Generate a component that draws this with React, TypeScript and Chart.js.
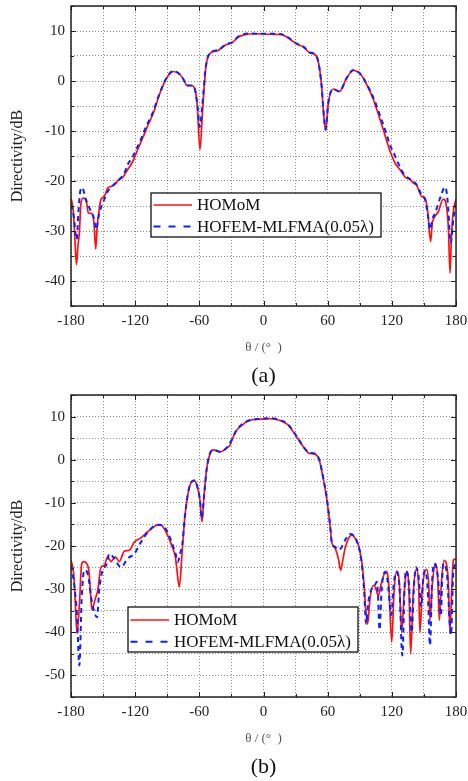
import React, { useEffect, useRef } from 'react';
import { Chart, registerables } from 'chart.js';

Chart.register(...registerables);

// ---------- Panel (a) ----------
const thetaHomomA = [
  -180, -177.8, -176.5, -174.9, -173.5, -172.2, -170.7, -168.5, -165.4, -163.8, -160.4, -158.5, -156.9, -155.5, -154.5,
  -152, -148.9, -145.7, -142.6, -140, -137.9, -134.8, -131.7, -127, -122.3, -117.6, -112.4, -108, -103, -96.8, -90.5,
  -84.3, -78.1, -74, -71.8, -67.1, -64, -61.9, -59.4, -56.9, -53.8, -50, -46, -42.3, -38, -34.4, -29.7, -23.5, -18,
  -14.2, -5, 0, 8, 15.4, 19, 23.2, 27, 31, 37.2, 43.5, 48.2, 51.2, 54.4, 55.9, 58.1, 60.6, 65.3, 70.9, 77.8, 84, 90.2,
  96.5, 102.7, 110.5, 118.3, 123, 127.6, 132.3, 137, 140.1, 143.3, 147.9, 151, 153.5, 156.3, 157.8, 159.4, 163.5,
  168.1, 171.3, 173, 174.4, 175.8, 176.9, 180,
];
const dbHomomA = [
  -23.4, -26.1, -31, -36.7, -33, -30.4, -24.4, -23.4, -24.4, -26.4, -26.5, -28.5, -33.6, -29, -27.1,
  -23.7, -23.1, -21.4, -21.1, -20.8, -20.4, -19.6, -19.3, -17.7, -16.1, -13.7, -11.1, -8.8, -6.4, -2.4, 0.6,
  1.9, 1.3, 0, -0.9, -0.9, -1.7, -5.1, -13.7, -5.7, 2.9, 5.5, 5.9, 6.1, 6.9, 7.3, 7.6, 8.8, 9.2,
  9.4, 9.45, 9.4, 9.35, 9.3, 9.1, 8.6, 8.0, 7.4, 6.8, 5.6, 5.3, 3.9, -1.1, -5.7, -9.9, -4.4, -1.6, -2.1, 0.6, 2.1, 1.5,
  -0.7, -3.7, -8.7, -14, -16.4, -17.7, -19.2, -19.7, -20.4, -20.9, -23.1, -23.4, -26, -32.1, -28.5, -27.4, -26.1,
  -23.6, -25.4, -30, -38.4, -31, -27.1, -23.6,
];

const thetaHofemA = [
  -180, -177.5, -174.7, -173, -171.6, -169.7, -166, -161.3, -158.5, -156.6, -153.5, -148.9, -145.7, -142, -138, -133,
  -130, -127, -123, -119, -115, -110, -104, -97, -90.5, -84.3, -78.1, -74, -71.8, -67.1, -64, -62, -59.6, -57.3, -54,
  -50, -42.3, -34.4, -29.7, -23.5, -14.2, 0, 15.4, 23.2, 31, 37.2, 43.5, 48.2, 51.2, 54.4, 56, 58.1, 60.6, 65.3, 70.9,
  77.8, 84, 90.2, 96.5, 102.7, 110.5, 115, 118.3, 121.8, 125, 128, 132.3, 137, 143.3, 147.9, 151, 153.5, 155.7, 158,
  160.4, 165.7, 169.7, 171.5, 172.8, 175, 177.8, 180,
];
const dbHofemA = [
  -24.7, -27, -31.7, -26, -22.4, -21.3, -23.7, -26.1, -27.5, -29.7, -26.4, -23.7, -22.1, -21.2, -20.3, -19.3,
  -18.4, -16.7, -15.4, -13.7, -11.9, -9.2, -6.6, -2.4, 0.7, 2.0, 1.3, 0, -0.9, -0.9, -1.8, -4.5, -9.2, -5, 2.8,
  5.6, 6.2, 7.4, 7.7, 8.9, 9.5, 9.45, 9.4, 8.7, 7.5, 6.9, 5.7, 5.3, 3.9, -1.2, -5.8, -9.7, -4.3, -1.6, -2.1,
  0.6, 2.2, 1.5, -0.6, -3.3, -7.8, -10.6, -12.8, -14.4, -16, -17.4, -18.9, -19.6, -20.8, -22.8, -23.7, -26.5, -29.7, -27.6,
  -26.4, -23.1, -21.2, -22.6, -25.7, -32.4, -27.1, -24.7,
];

// ---------- Panel (b) ----------
const thetaHomomB = [
  -180, -177.5, -176, -174.4, -172.2, -170, -168.5, -164.4, -163, -162.2, -160.5, -157.3, -155, -152, -148.9, -145.7,
  -142.6, -138.6, -134.8, -130.2, -125.5, -120.8, -114.6, -108.3, -104, -100, -96.5, -92.1, -88, -85.9, -82.4, -81.2,
  -78.7, -75.9, -73.4, -70.9, -68.1, -64.7, -61.9, -59.4, -57.5, -55.6, -53.1, -50, -46.9, -43, -40.7, -34.4, -31.3,
  -29.7, -25.1, -20, -15.7, -6.4, 0, 6.1, 10, 15.4, 19, 23.2, 27, 31, 37.2, 41.9, 45, 48.2, 52.2, 55.9, 59.1, 62.2,
  63.8, 66.9, 70, 72.2, 74, 76.2, 79, 82.5, 86, 88.7, 91.9, 94.3, 95.5, 97.4, 99.6, 102.7, 105, 107.3, 110, 114.4,
  117, 119.9, 122, 124.6, 127, 129.2, 131.5, 133.9, 136, 137.6, 140, 143.2, 145, 146.3, 148.5, 152.6, 154.5, 155.7,
  157.8, 161, 163, 164.4, 166.5, 168.8, 172.5, 174.4, 176, 177.5, 180,
];
const dbHomomB = [
  -23.3, -26.4, -33, -40.3, -33.8, -24.1, -23.6, -24.5, -26.5, -29.1, -34.8, -32.2, -30.3, -24.9, -24.5, -22.5,
  -23.6, -22.5, -23.6, -21.2, -21, -19.1, -18.1, -16.7, -15.8, -15.2, -15.05, -16.3, -18.5, -19.8, -22.6, -25,
  -29.5, -20.6, -12.9, -8.3, -5.5, -4.8, -6.3, -9.4, -14.4, -8.3, -2.1, 1.4, 2.3, 2.0, 1.8, 2.7, 3.4,
  4.5, 6.8, 8.0, 8.8, 9.4, 9.4, 9.5, 9.4, 9.1, 8.7, 8.0, 6.8, 5.3, 3.0, 1.6, 1.4, 1.3, -0.1, -4.4, -9, -15.2,
  -19.1, -20.5, -22.9, -25.6, -23.5, -20.6, -18.5, -17.5, -18.3, -19.8, -23.7, -29.9, -34.5, -38, -32.2, -29.1, -29.8, -31.6, -28.8, -25.9,
  -28.5, -42.3, -31, -25.8, -28.5, -40, -31, -25.9, -30, -45, -31, -25.3, -29, -40, -30, -25.4, -29, -37.2,
  -29, -24.1, -28, -37.2, -28, -23.3, -27, -40, -30, -23.3, -23,
];

const thetaHofemB = [
  -180, -176.9, -174.4, -172.2, -170, -167.6, -164.4, -160.4, -155.7, -153.5, -150.4, -147.2, -144.1, -139.5, -133.3,
  -127, -120.8, -114.6, -106.8, -99, -95, -91, -86, -82, -80.2, -78, -75.9, -73.4, -70.9, -68.1, -64.7, -61.9, -59.4,
  -57.7, -55.6, -53.1, -50, -46.9, -43, -40.7, -34.4, -29.7, -25.1, -15.7, -6.4, 6.1, 15.4, 23.2, 31, 37.2, 41.9, 48.2,
  52.2, 55.9, 59.1, 62.2, 64, 67, 70, 72.5, 76.2, 80.9, 84.5, 88, 91.5, 94, 96, 98, 101, 103.5, 105.9, 107, 108.5,
  110.5, 113.4, 116, 119.5, 121.7, 124, 127, 129.8, 132, 133.3, 136, 138.5, 141, 142.6, 145, 147.5, 149.5, 151, 153.5,
  155.7, 157.5, 159.5, 163, 166, 167, 168.2, 171.5, 175.3, 177.5, 180,
];
const dbHofemB = [
  -24.5, -29.1, -36.1, -47.7, -32.2, -25.6, -26.4, -33, -36.5, -29.9, -25.6, -24.5, -21.8, -22.9, -24.9,
  -22.9, -21.8, -19.1, -16.4, -15.05, -15.2, -16.2, -19.0, -22.0, -23.7, -21.8, -19.6, -12.9, -8.2, -5.4, -4.8, -6.2, -9.4,
  -13.6, -8.4, -2.1, 1.5, 2.3, 2.0, 1.9, 2.8, 4.6, 6.9, 8.9, 9.4, 9.6, 9.2, 8.1, 5.4, 3.1, 1.7, 1.4,
  0, -4.3, -8.8, -15, -19.3, -20.2, -20.9, -20.5, -18.7, -17.2, -17.6, -19.4, -23.2, -30, -38, -33, -30, -29.5, -28.3, -31, -39.4,
  -30, -26, -28, -36, -29, -26, -29, -45.4, -29, -25.7, -29, -40, -28, -24.9, -27, -34, -27, -25.7, -30,
  -43, -29, -24.1, -27, -36.1, -28, -24.1, -26.5, -40.6, -26, -24,
];

const seriesLabels = ['HOMoM', 'HOFEM-MLFMA(0.05λ)'];
const xTicksMajor = 60;
const yTicksMajor = 10;

const FONT = "'Liberation Serif', 'Times New Roman', Times, serif";

function pts(t: number[], v: number[]) {
  return t.map((x, i) => ({ x, y: v[i] }));
}

const framePlugin = {
  id: 'frameTicks',
  afterDraw(chart: any) {
    const { ctx, chartArea: a, scales } = chart;
    ctx.save();
    ctx.setLineDash([]);
    ctx.strokeStyle = '#222';
    ctx.lineWidth = 1;
    scales.x.ticks.forEach((t: any) => {
      const px = Math.round(scales.x.getPixelForValue(t.value)) + 0.5;
      const len = t.value % xTicksMajor === 0 ? 5 : 3;
      ctx.beginPath();
      ctx.moveTo(px, a.bottom);
      ctx.lineTo(px, a.bottom - len);
      ctx.moveTo(px, a.top);
      ctx.lineTo(px, a.top + len);
      ctx.stroke();
    });
    scales.y.ticks.forEach((t: any) => {
      const py = Math.round(scales.y.getPixelForValue(t.value)) + 0.5;
      const len = t.value % yTicksMajor === 0 ? 5 : 3;
      ctx.beginPath();
      ctx.moveTo(a.left, py);
      ctx.lineTo(a.left + len, py);
      ctx.moveTo(a.right, py);
      ctx.lineTo(a.right - len, py);
      ctx.stroke();
    });
    ctx.lineWidth = 1.5;
    ctx.strokeStyle = '#222';
    ctx.strokeRect(a.left, a.top, a.right - a.left, a.bottom - a.top);
    ctx.restore();
  },
};

const boxLegendPlugin = {
  id: 'boxLegend',
  afterDraw(chart: any, _args: any, opts: any) {
    const { ctx, chartArea: a } = chart;
    const x = a.left + opts.dx;
    const y = a.top + opts.dy;
    ctx.save();
    ctx.fillStyle = '#fff';
    ctx.fillRect(x, y, opts.w, opts.h);
    ctx.strokeStyle = '#111';
    ctx.lineWidth = 1.3;
    ctx.setLineDash([]);
    ctx.strokeRect(x, y, opts.w, opts.h);
    chart.data.datasets.forEach((ds: any, i: number) => {
      const cy = y + opts.rows[i];
      ctx.beginPath();
      ctx.strokeStyle = ds.borderColor;
      ctx.lineWidth = ds.borderWidth;
      ctx.setLineDash(i === 0 ? [] : [7, 8]);
      ctx.moveTo(x + 2.5, cy);
      ctx.lineTo(x + 41, cy);
      ctx.stroke();
      ctx.setLineDash([]);
      ctx.fillStyle = '#111';
      ctx.font = `17px ${FONT}`;
      ctx.textBaseline = 'middle';
      ctx.textAlign = 'left';
      ctx.fillText(ds.label, x + 46, cy + 1);
    });
    // caption
    ctx.fillStyle = '#111';
    ctx.font = `22px ${FONT}`;
    ctx.textAlign = 'center';
    ctx.textBaseline = 'middle';
    ctx.fillText(opts.caption, (a.left + a.right) / 2, a.bottom + 70);
    ctx.restore();
  },
};

type PanelProps = {
  top: number;
  height: number;
  yMin: number;
  red: { x: number; y: number }[];
  blue: { x: number; y: number }[];
  legend: { dx: number; dy: number; w: number; h: number; rows: number[]; caption: string };
};

function Panel({ top, height, yMin, red, blue, legend }: PanelProps) {
  const ref = useRef<HTMLCanvasElement | null>(null);
  useEffect(() => {
    const chart = new Chart(ref.current as HTMLCanvasElement, {
      type: 'line',
      data: {
        datasets: [
          {
            label: seriesLabels[0],
            data: red,
            borderColor: '#ff1010',
            borderWidth: 1.7,
            pointRadius: 0,
            cubicInterpolationMode: 'monotone',
            fill: false,
            order: 1,
          },
          {
            label: seriesLabels[1],
            data: blue,
            borderColor: '#1020ff',
            borderWidth: 2,
            borderDash: [5, 4],
            pointRadius: 0,
            cubicInterpolationMode: 'monotone',
            fill: false,
            order: 0,
          },
        ],
      } as any,
      options: {
        animation: false,
        responsive: false,
        maintainAspectRatio: false,
        parsing: false as any,
        layout: { padding: { left: 0, top: 6, right: 12, bottom: 0 } },
        plugins: {
          legend: { display: false },
          tooltip: { enabled: false },
          boxLegend: legend,
        } as any,
        scales: {
          x: {
            type: 'linear',
            min: -180,
            max: 180,
            ticks: {
              stepSize: 30,
              autoSkip: false,
              maxRotation: 0,
              minRotation: 0,
              padding: 6,
              color: '#222',
              font: { family: FONT, size: 15 },
              callback: (v: any) => (Number(v) % xTicksMajor === 0 ? String(v) : ''),
            },
            grid: { color: 'rgba(0,0,0,0.45)', lineWidth: 1, drawTicks: false },
            border: { display: false, dash: [1, 2] },
            title: {
              display: true,
              text: 'θ / (°  )',
              color: '#555',
              font: { family: FONT, size: 13 },
              padding: { top: 0, bottom: 35 },
            },
            afterFit: (s: any) => {
              s.height = 84;
              s.paddingLeft = 0;
              s.paddingRight = 0;
            },
          },
          y: {
            type: 'linear',
            min: yMin,
            max: 15,
            ticks: {
              stepSize: 5,
              autoSkip: false,
              padding: 6,
              color: '#222',
              font: { family: FONT, size: 15 },
              callback: (v: any) => (Number(v) % yTicksMajor === 0 ? String(v) : ''),
            },
            grid: { color: 'rgba(0,0,0,0.45)', lineWidth: 1, drawTicks: false },
            border: { display: false, dash: [1, 2] },
            title: {
              display: true,
              text: 'Directivity/dB',
              color: '#222',
              font: { family: FONT, size: 16 },
              padding: { top: 8, bottom: 0 },
            },
            afterFit: (s: any) => {
              s.width = 71;
              s.paddingTop = 0;
              s.paddingBottom = 0;
            },
          },
        },
      } as any,
      plugins: [framePlugin, boxLegendPlugin],
    });
    return () => chart.destroy();
  }, []);
  return (
    <canvas
      ref={ref}
      width={468}
      height={height}
      style={{ position: 'absolute', left: 0, top, width: 468, height, display: 'block' }}
    />
  );
}

export default function App() {
  return (
    <div style={{ position: 'absolute', left: 0, top: 0, width: 468, height: 781, background: '#fff' }}>
      <Panel
        top={0}
        height={390}
        yMin={-45}
        red={pts(thetaHomomA, dbHomomA)}
        blue={pts(thetaHofemA, dbHofemA)}
        legend={{ dx: 80, dy: 187, w: 230, h: 44, rows: [12, 33.5], caption: '(a)' }}
      />
      <Panel
        top={389}
        height={392}
        yMin={-55}
        red={pts(thetaHomomB, dbHomomB)}
        blue={pts(thetaHofemB, dbHofemB)}
        legend={{ dx: 57, dy: 212, w: 230, h: 45, rows: [13, 34.7], caption: '(b)' }}
      />
    </div>
  );
}
